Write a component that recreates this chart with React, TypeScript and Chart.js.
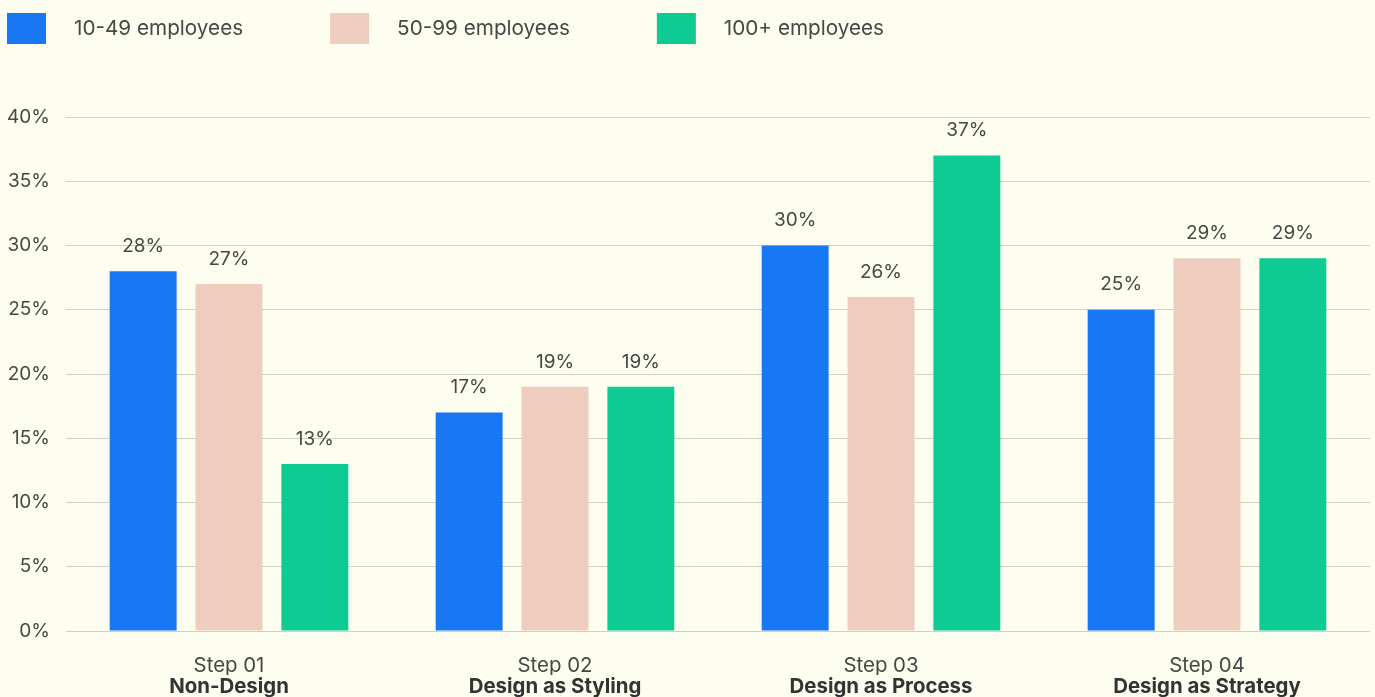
import React, { useEffect, useRef } from "react";
import { Chart, registerables } from "chart.js";

Chart.register(...registerables);

// Company-size survey: share of companies at each design maturity step
const steps = ["Step 01", "Step 02", "Step 03", "Step 04"];
const stageNames = ["Non-Design", "Design as Styling", "Design as Process", "Design as Strategy"];
const seriesNames = ["10-49 employees", "50-99 employees", "100+ employees"];
const small = [28, 17, 30, 25];
const medium = [27, 19, 26, 29];
const large = [13, 19, 37, 29];
const seriesColors = ["#1877f2", "#eecdbf", "#0ecb93"];
const yMax = 40;
const yStep = 5;

const FONT = "Inter, 'Noto Sans', sans-serif";
const TEXT = "#474747";
const BG = "#fefef0";

// Draws the value above each bar
const valueLabels = {
  id: "valueLabels",
  afterDatasetsDraw(chart: any) {
    const ctx = chart.ctx;
    ctx.save();
    ctx.font = `400 19px ${FONT}`;
    ctx.fillStyle = TEXT;
    ctx.textAlign = "center";
    ctx.textBaseline = "middle";
    chart.data.datasets.forEach((ds: any, i: number) => {
      const meta = chart.getDatasetMeta(i);
      meta.data.forEach((bar: any, j: number) => {
        ctx.fillText(`${ds.data[j]}%`, bar.x, bar.y - 25);
      });
    });
    ctx.restore();
  },
};

// Legend row along the top edge
const topLegend = {
  id: "topLegend",
  afterDraw(chart: any) {
    const ctx = chart.ctx;
    ctx.save();
    ctx.font = `400 20.7px ${FONT}`;
    ctx.textBaseline = "middle";
    ctx.textAlign = "left";
    let x = 7;
    chart.data.datasets.forEach((ds: any) => {
      ctx.fillStyle = ds.backgroundColor;
      ctx.fillRect(x, 13, 39, 31);
      ctx.fillStyle = TEXT;
      const tx = x + 67;
      ctx.fillText(ds.label, tx, 28.5);
      x = tx + ctx.measureText(ds.label).width + 87;
    });
    ctx.restore();
  },
};

const background = {
  id: "background",
  beforeDraw(chart: any) {
    const ctx = chart.ctx;
    ctx.save();
    ctx.fillStyle = BG;
    ctx.fillRect(0, 0, chart.width, chart.height);
    ctx.restore();
  },
};

export default function App() {
  const canvasRef = useRef<HTMLCanvasElement | null>(null);

  useEffect(() => {
    document.body.style.margin = "0";
    document.body.style.background = BG;
    const values = [small, medium, large];
    const chart = new Chart(canvasRef.current as HTMLCanvasElement, {
      type: "bar",
      data: {
        labels: steps,
        datasets: seriesNames.map((name, i) => ({
          label: name,
          data: values[i],
          backgroundColor: seriesColors[i],
          borderWidth: 0,
          categoryPercentage: 0.79,
          barPercentage: 0.78,
        })),
      },
      options: {
        animation: false,
        responsive: false,
        maintainAspectRatio: false,
        layout: { padding: { top: 117, left: 8, right: 5, bottom: 0 } },
        plugins: {
          legend: { display: false },
          tooltip: { enabled: false },
        },
        scales: {
          x: {
            weight: 0,
            grid: { display: false, drawTicks: false },
            border: { display: false },
            ticks: { color: TEXT, font: { family: FONT, size: 20.4, weight: "400" }, padding: 23 },
            afterFit: (scale: any) => {
              scale.height = 44;
            },
          },
          x2: {
            type: "category",
            labels: stageNames,
            position: "bottom",
            offset: true,
            weight: 1,
            grid: { display: false, drawTicks: false },
            border: { display: false },
            ticks: { color: "#333333", font: { family: FONT, size: 20.4, weight: "700" }, padding: 0 },
            afterFit: (scale: any) => {
              scale.height = 22;
            },
          },
          y: {
            min: 0,
            max: yMax,
            border: { display: false },
            grid: { color: "#cfcfc3", lineWidth: 1, drawTicks: false },
            ticks: {
              stepSize: yStep,
              color: TEXT,
              padding: 16,
              font: { family: FONT, size: 19, weight: "400" },
              callback: (v: any) => `${v}%`,
            },
            afterFit: (scale: any) => {
              scale.width = 58;
            },
          },
        },
      },
      plugins: [background, valueLabels, topLegend],
    });
    return () => chart.destroy();
  }, []);

  return (
    <div style={{ width: 1375, height: 697, background: BG }}>
      <canvas ref={canvasRef} width={1375} height={697} style={{ display: "block" }} />
    </div>
  );
}
